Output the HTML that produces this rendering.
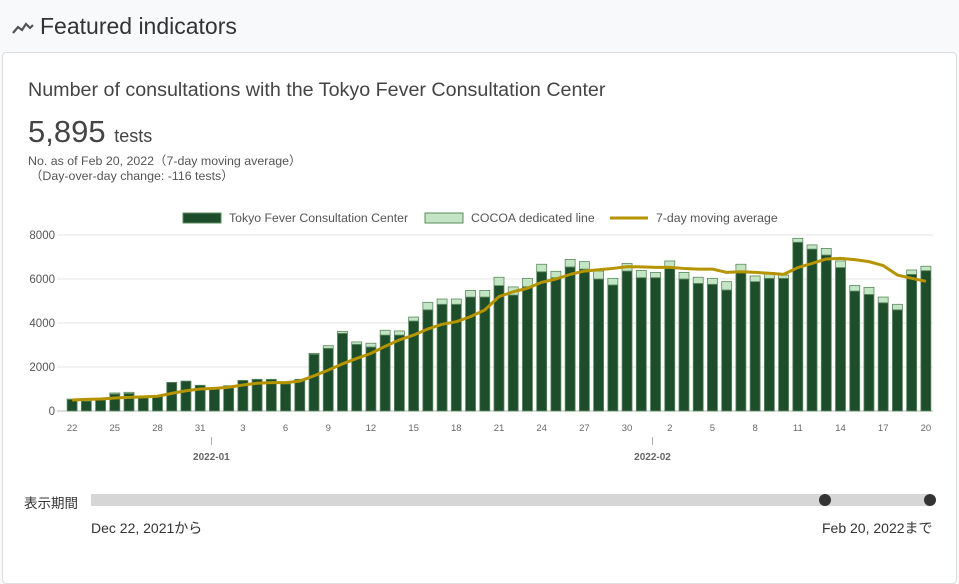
<!DOCTYPE html>
<html><head><meta charset="utf-8">
<style>
body{margin:0;width:959px;height:570px;background:#f8f9fa;font-family:"Liberation Sans","Noto Sans CJK JP",sans-serif;overflow:hidden;position:relative}
.hdr{position:absolute;left:12px;top:13px;font-size:23px;color:#333}
.card{position:absolute;left:2px;top:52px;width:953px;height:530px;background:#fff;border:1px solid #ddd;border-radius:4px}
.t{position:absolute;color:#333}
</style></head><body>
<div class="hdr"><svg width="22" height="14" viewBox="0 0 22 14" style="vertical-align:middle;margin-right:6px"><polyline points="1,12 6,6 10,9 14,3 18,7 21,4" fill="none" stroke="#555" stroke-width="2.2"/></svg>Featured indicators</div>
<div class="card"></div>
<div class="t" style="left:28px;top:79px;font-size:19.7px;color:#444">Number of consultations with the Tokyo Fever Consultation Center</div>
<div class="t" style="left:28px;top:114px;font-size:31px;color:#444">5,895 <span style="font-size:18px">tests</span></div>
<div class="t" style="left:28px;top:151px;font-size:12.4px;color:#555">No. as of Feb 20, 2022（7-day moving average）</div>
<div class="t" style="left:30px;top:166px;font-size:12.4px;color:#555">（Day-over-day change: -116 tests）</div>
<svg id="chart" width="959" height="570" style="position:absolute;left:0;top:0"></svg>
<div class="t" style="left:24px;top:492px;font-size:13.5px">表示期間</div>
<div style="position:absolute;left:91px;top:494px;width:840px;height:12px;background:#d6d6d6"></div>
<div style="position:absolute;left:819px;top:494px;width:12px;height:12px;border-radius:6px;background:#333"></div>
<div style="position:absolute;left:924px;top:494px;width:12px;height:12px;border-radius:6px;background:#333"></div>
<div class="t" style="left:91px;top:518px;font-size:14px">Dec 22, 2021から</div>
<div class="t" style="left:822px;top:518px;font-size:14px">Feb 20, 2022まで</div>
<script>
const dayLabels=[22,23,24,25,26,27,28,29,30,31,1,2,3,4,5,6,7,8,9,10,11,12,13,14,15,16,17,18,19,20,21,22,23,24,25,26,27,28,29,30,31,1,2,3,4,5,6,7,8,9,10,11,12,13,14,15,16,17,18,19,20];
const centerVals=[530,450,500,770,800,600,700,1300,1360,1170,1030,1150,1390,1440,1440,1230,1440,2580,2850,3530,3030,2910,3450,3450,4090,4600,4850,4850,5180,5180,5700,5270,5650,6330,6060,6550,6450,6000,5730,6360,6060,6060,6550,6000,5800,5760,5500,6360,5880,6030,6030,7670,7360,7090,6520,5450,5300,4920,4600,6210,6380];
const cocoaVals=[10,0,0,50,50,0,0,0,0,0,0,0,0,0,0,0,0,40,120,90,110,170,220,190,180,340,240,240,300,300,380,370,380,340,290,340,340,360,300,350,330,240,270,300,280,270,380,310,260,270,150,180,190,300,300,260,320,260,250,200,200];
const maVals=[500,530,545,590,620,640,670,800,920,1000,1030,1080,1180,1260,1290,1290,1360,1600,1860,2140,2390,2620,2940,3230,3450,3730,3940,4060,4290,4590,5200,5420,5580,5850,6000,6210,6360,6420,6480,6560,6550,6530,6530,6480,6450,6450,6300,6330,6300,6260,6210,6520,6710,6910,6940,6880,6790,6610,6180,6030,5895];
const yTicks=[0,2000,4000,6000,8000];
const svg=document.getElementById('chart');const NS='http://www.w3.org/2000/svg';
const X0=65,X1=933,Y0=411,Y1=235,YMAX=8000;
const band=(X1-X0)/dayLabels.length;
const xc=i=>X0+band*(i+0.5);
const y=v=>Y0-(v/YMAX)*(Y0-Y1);
function mk(t,a){const e=document.createElementNS(NS,t);for(const k in a)e.setAttribute(k,a[k]);svg.appendChild(e);return e;}
yTicks.forEach(v=>{
 const g=mk('line',{x1:X0-8,x2:X1,y1:y(v),y2:y(v),stroke:v===0?'#bbb':'#e4e4e4','stroke-width':1});
 
 
 const t=mk('text',{x:X0-10,y:y(v)+4,'text-anchor':'end','font-size':11.5,fill:'#555'});t.textContent=v;
 
 
});
const bw=10;
centerVals.forEach((v,i)=>{
 const r=mk('rect',{x:xc(i)-bw/2,y:y(v),width:bw,height:Y0-y(v),fill:'#1e4d2b',stroke:'#5b8a5f','stroke-width':0.8});
 
 
 if(cocoaVals[i]>0){
 const c=mk('rect',{x:xc(i)-bw/2,y:y(v+cocoaVals[i]),width:bw,height:y(v)-y(v+cocoaVals[i]),fill:'#c3e5c3',stroke:'#5b8a5f','stroke-width':0.8});
 
 }
});
const p=mk('polyline',{points:maVals.map((v,i)=>xc(i)+','+y(v)).join(' '),fill:'none',stroke:'#b59400','stroke-width':3,'stroke-linejoin':'round'});


dayLabels.forEach((d,i)=>{if(i%3)return;
 const t=mk('text',{x:xc(i),y:431,'text-anchor':'middle','font-size':9.5,fill:'#666'});t.textContent=d;
 
 });
[['2022-01',10],['2022-02',41]].forEach(([m,i])=>{
 const x=xc(i)-3;
 mk('line',{x1:x,x2:x,y1:437,y2:445,stroke:'#aaa'});
 const t=mk('text',{x:x,y:460,'text-anchor':'middle','font-size':10,'font-weight':'bold',fill:'#666'});t.textContent=m;
 
 });
const L=[[183,'rect','#1e4d2b','Tokyo Fever Consultation Center'],[425,'rect','#c3e5c3','COCOA dedicated line'],[610,'line','#b59400','7-day moving average']];
L.forEach(([x,k,c,txt])=>{
 if(k==='rect')mk('rect',{x:x,y:213,width:38,height:10,fill:c,stroke:'#5b8a5f'});
 else mk('line',{x1:x,x2:x+38,y1:218,y2:218,stroke:c,'stroke-width':3});
 const t=mk('text',{x:x+46,y:222,'font-size':12.3,fill:'#555'});t.textContent=txt;
 
 });
</script>
</body></html>
